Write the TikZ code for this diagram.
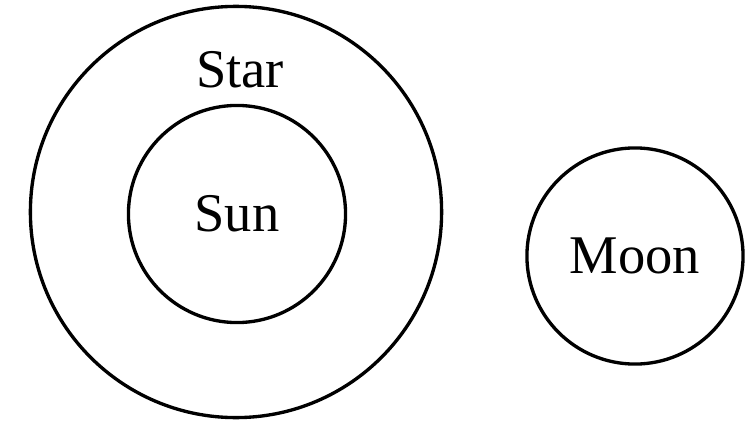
\documentclass[tikz,border=0pt]{standalone}
\usepackage{fontspec}
\setmainfont{Liberation Serif}
\usepackage{tikz}
\tikzset{
  body/.style={circle, draw=black, line width=0.95pt, inner sep=0pt,
               font=\fontsize{15.5}{18}\selectfont},
  lbl/.style={font=\fontsize{15.5}{18}\selectfont, inner sep=0pt},
}
\begin{document}
\begin{tikzpicture}[x=0.01cm, y=-0.01cm]
  \useasboundingbox (0,0) rectangle (747,421);
  \node[body, minimum size=4.11cm] (star) at (236,212) {};
  \node[body, minimum size=2.17cm] (sun) at (237,214) {Sun};
  \node[body, minimum size=2.16cm] (moon) at (635,256) {Moon};
  \node[lbl, anchor=base] (starlbl) at (240,87) {Star};
\end{tikzpicture}
\end{document}
